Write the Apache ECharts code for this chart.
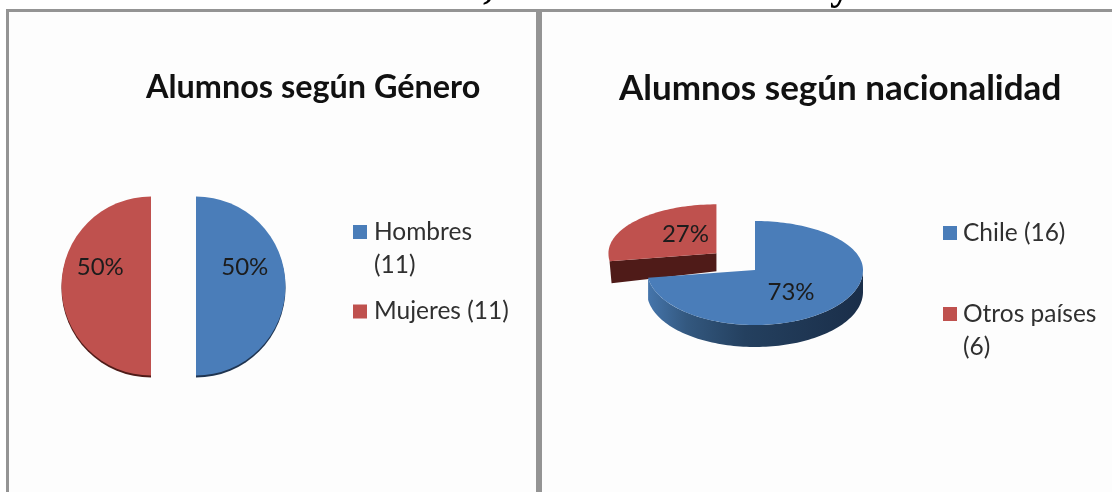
<!DOCTYPE html>
<html><head><meta charset="utf-8">
<style>html,body{margin:0;padding:0;background:#fff}#c{width:1112px;height:492px;filter:blur(0.5px)}</style>
<script src="https://cdn.jsdelivr.net/npm/echarts@6/dist/echarts.min.js"></script>
</head><body><div id="c"></div>
<script>
const generoNames = ['Hombres (11)', 'Mujeres (11)'];
const generoValues = [11, 11];
const nacionNames = ['Chile (16)', 'Otros países (6)'];
const nacionValues = [16, 6];
const titles = ['Alumnos según Género', 'Alumnos según nacionalidad'];
const BLUE = '#4a7db9', RED = '#bf514e';
const FONT = 'Lato, "Open Sans", sans-serif';
const chart = echarts.init(document.getElementById('c'));
const total = nacionValues.reduce((a, b) => a + b, 0);

// tilted pie: angle is measured clockwise from 12 o'clock
const G = {cx: 755, cy: 270, rx: 108, ryTop: 49, ryBot: 55, depth: 22, explode: 51, explodeY: 0.5};
function pt(a, ox, oy, r) {
  const s = Math.sin(a), c = -Math.cos(a);
  return [G.cx + ox + G.rx * r * s, G.cy + oy + (c > 0 ? G.ryBot : G.ryTop) * r * c];
}
function arc(a0, a1, ox, oy, dy) {
  const n = Math.max(2, Math.ceil((a1 - a0) / 0.03)), p = [];
  for (let i = 0; i <= n; i++) {
    const q = pt(a0 + (a1 - a0) * i / n, ox, oy, 1);
    p.push([q[0], q[1] + dy]);
  }
  return p;
}
function render3d(params, api) {
  const v = api.value(0), start = api.value(1), tot = api.value(2), exploded = api.value(3);
  const a0 = start / tot * 2 * Math.PI, a1 = (start + v) / tot * 2 * Math.PI;
  const color = api.visual('color'), mid = (a0 + a1) / 2;
  const ox = exploded ? G.explode * Math.sin(mid) : 0;
  const oy = exploded ? -G.explode * Math.cos(mid) * G.explodeY : 0;
  const ch = [];
  const apex = [G.cx + ox, G.cy + oy];
  if (exploded) {
    // cut face of the exploded slice
    const o = pt(a0, ox, oy, 1);
    ch.push({type: 'polygon', shape: {points: [apex, o, [o[0] + 2, o[1] + G.depth], [apex[0], apex[1] + G.depth - 4]]}, style: {fill: '#4f1b18'}});
  } else {
    // outer wall (front half only)
    const w0 = Math.max(a0, Math.PI / 2), w1 = Math.min(a1, Math.PI * 1.5);
    const top = arc(w0, w1, ox, oy, 0), bot = arc(w0, w1, ox, oy, G.depth).reverse();
    ch.push({type: 'polygon', shape: {points: top.concat(bot)}, style: {fill: {
      type: 'linear', x: 1, y: 0, x2: 0, y2: 0,
      colorStops: [{offset: 0, color: '#1a2e49'}, {offset: 0.55, color: '#24405f'}, {offset: 0.82, color: '#33587f'}, {offset: 1, color: '#4575ab'}]
    }}});
  }
  ch.push({type: 'polygon', shape: {points: [apex].concat(arc(a0, a1, ox, oy, 0))}, style: {fill: color}});
  const lp = exploded ? [apex[0] - 31, apex[1] - 19] : [apex[0] + 36, apex[1] + 22];
  ch.push({type: 'text', style: {text: Math.round(v / tot * 100) + '%', x: lp[0], y: lp[1], align: 'center', verticalAlign: 'middle', font: '24px ' + FONT, fill: '#1c1c1c'}});
  return {type: 'group', children: ch};
}

function frame(x, y, w, h, lw) {
  return {type: 'rect', silent: true, z: 0, shape: {x, y, width: w, height: h}, style: {fill: '#fdfdfd', stroke: '#949494', lineWidth: lw}};
}
function clippedGlyph(text, x, bottom) {
  return {type: 'text', silent: true, z: 1, style: {text, x, y: bottom, verticalAlign: 'bottom', font: 'bold 42px "Liberation Serif", serif', fill: '#000'}};
}
const legendBase = {orient: 'vertical', selectedMode: false, itemWidth: 14, itemHeight: 14, itemGap: 0, icon: 'rect', padding: 0};
function legendItem(name, left, top, wrapped, textShift) {
  return Object.assign({}, legendBase, {
    left, top, data: [name],
    // a blank first line keeps the square level with the first line of a wrapped name
    formatter: n => wrapped ? ' \n' + n.replace(' (', '\n(') : n,
    textStyle: {fontFamily: FONT, fontSize: 24.5, color: '#303030', lineHeight: 33, padding: [0, 0, 0, textShift]}
  });
}
const slices3d = nacionNames.map((name, i) => ({
  name, type: 'custom', coordinateSystem: 'none', z: 3 - i, silent: true,
  itemStyle: {color: [BLUE, RED][i]}, color: [BLUE, RED][i],
  renderItem: render3d, animation: false,
  data: [[nacionValues[i], nacionValues.slice(0, i).reduce((a, b) => a + b, 0), total, i === 1 ? 1 : 0]]
}));
const pieBase = {type: 'pie', center: [173.5, 286], radius: [0, 89.5], selectedMode: 'multiple', selectedOffset: 22.5, startAngle: 90, clockwise: true, silent: true, animation: false, emphasis: {disabled: true}, labelLine: {show: false}};
chart.setOption({
  backgroundColor: '#ffffff', animation: false,
  title: [
    {text: titles[0], left: 146, top: 72, padding: 0, textStyle: {fontFamily: FONT, fontWeight: 'bold', fontSize: 32.4, color: '#111'}},
    {text: titles[1], left: 619, top: 71, padding: 0, textStyle: {fontFamily: FONT, fontWeight: 'bold', fontSize: 35, color: '#111'}}
  ],
  legend: [
    legendItem(generoNames[0], 353, 182.5, true, 2),
    legendItem(generoNames[1], 353, 295, false, 2),
    legendItem(nacionNames[0], 943, 216.5, false, 1),
    legendItem(nacionNames[1], 943, 264.5, true, 1)
  ],
  graphic: [frame(7.5, 10.5, 530, 500, 3), frame(540.5, 10.5, 600, 500, 3), clippedGlyph(',', 483, 8), clippedGlyph('y', 830, 9)],
  series: [
    Object.assign({}, pieBase, {z: 3, name: 'genero',
      label: {show: true, position: 'inside', formatter: '{d}%', fontFamily: FONT, fontSize: 24, color: '#1c1c1c'},
      labelLayout: p => ({dx: p.dataIndex === 0 ? 1 : -3, dy: -19}),
      data: generoNames.map((name, i) => ({name, value: generoValues[i], selected: true, itemStyle: {color: [BLUE, RED][i]}}))}),
    Object.assign({}, pieBase, {z: 2, name: 'generoSombra', center: [173.5, 288], label: {show: false},
      data: generoNames.map((name, i) => ({name, value: generoValues[i], selected: true, itemStyle: {color: ['#1f3450', '#4f1b18'][i]}}))})
  ].concat(slices3d)
});
</script></body></html>
